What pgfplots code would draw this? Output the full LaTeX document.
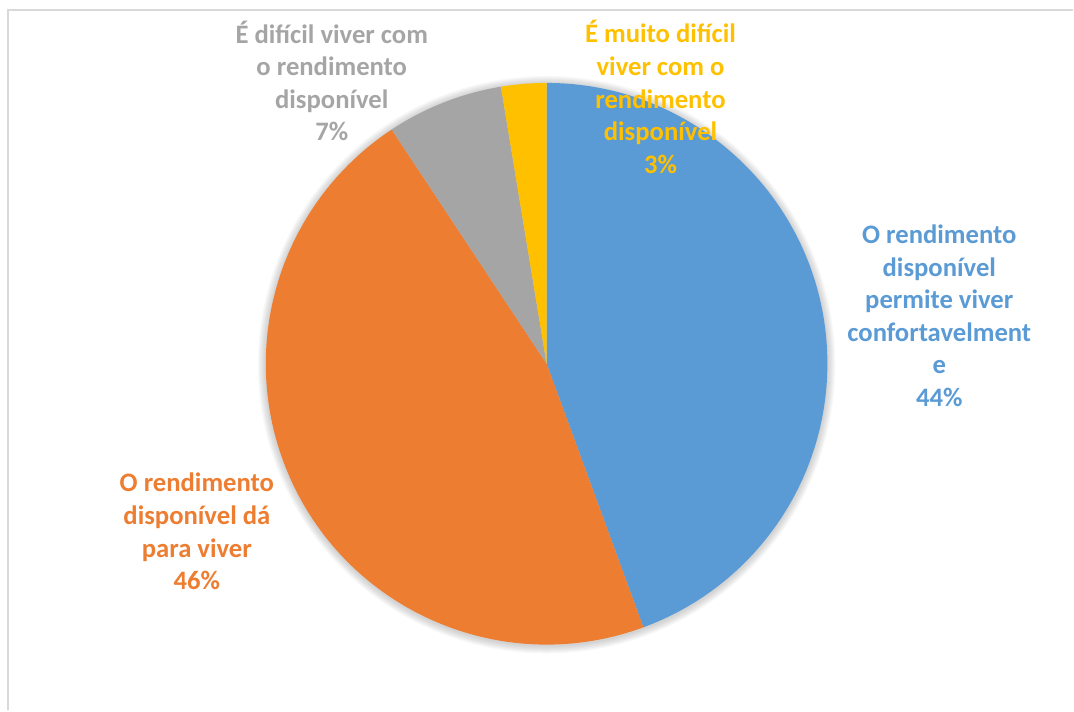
\documentclass[border=0pt]{standalone}
\usepackage{fontspec}
\setmainfont{Carlito}
\usepackage{pgfplots}
\pgfplotsset{compat=1.18}

\definecolor{pieblue}{HTML}{5B9BD5}
\definecolor{pieorange}{HTML}{ED7D31}
\definecolor{piegray}{HTML}{A5A5A5}
\definecolor{pieyellow}{HTML}{FFC000}
\definecolor{framegray}{HTML}{D9D9D9}

% shares in percent, clockwise from 12 o'clock
\def\vBlue{44.4}
\def\vOrange{46.3}
\def\vGray{6.7}
\def\vYellow{2.6}

\pgfmathsetmacro\aA{90}
\pgfmathsetmacro\aB{\aA-\vBlue*3.6}
\pgfmathsetmacro\aC{\aB-\vOrange*3.6}
\pgfmathsetmacro\aD{\aC-\vGray*3.6}
\pgfmathsetmacro\aE{\aD-\vYellow*3.6}
\def\R{210.75pt}

\begin{document}
\begin{tikzpicture}
\begin{axis}[
  scale only axis,
  width=805.5pt, height=533.25pt,
  xmin=0, xmax=1074, ymin=0, ymax=711,
  y dir=reverse,
  hide axis,
  clip=false,
]
% keep the full canvas in the bounding box
\path (axis cs:0,0) rectangle (axis cs:1074,711);

% chart frame (only top and left edges visible)
\draw[framegray, line width=1.2pt] (axis cs:8,711) -- (axis cs:8,10) -- (axis cs:1074,10);

% soft shadow around the pie
\pgfplotsinvokeforeach{8,7,6,5,4,3,2,1}{
  \fill[black, opacity=0.022] (axis cs:547,365) circle[radius=210.75pt+#1*0.75pt];
}

% slices
\fill[pieblue]   (axis cs:547,364) -- ++(\aA:\R) arc[start angle=\aA, end angle=\aB, radius=\R] -- cycle;
\fill[pieorange] (axis cs:547,364) -- ++(\aB:\R) arc[start angle=\aB, end angle=\aC, radius=\R] -- cycle;
\fill[piegray]   (axis cs:547,364) -- ++(\aC:\R) arc[start angle=\aC, end angle=\aD, radius=\R] -- cycle;
\fill[pieyellow] (axis cs:547,364) -- ++(\aD:\R) arc[start angle=\aD, end angle=\aE, radius=\R] -- cycle;

% data labels
\tikzset{lbl/.style={align=center, font=\fontsize{20}{24.45}\selectfont\bfseries, inner sep=0pt}}
\node[lbl, text=pieblue] at (axis cs:940,316)
  {O rendimento\\disponível\\permite viver\\confortavelment\\e\\44\%};
\node[lbl, text=pieorange] at (axis cs:197,532)
  {O rendimento\\disponível dá\\para viver\\46\%};
\node[lbl, text=piegray] at (axis cs:332,81)
  {É difícil viver com\\o rendimento\\disponível\\7\%};
\node[lbl, text=pieyellow] at (axis cs:661,97)
  {É muito difícil\\viver com o\\rendimento\\disponível\\3\%};
\end{axis}
\end{tikzpicture}
\end{document}
